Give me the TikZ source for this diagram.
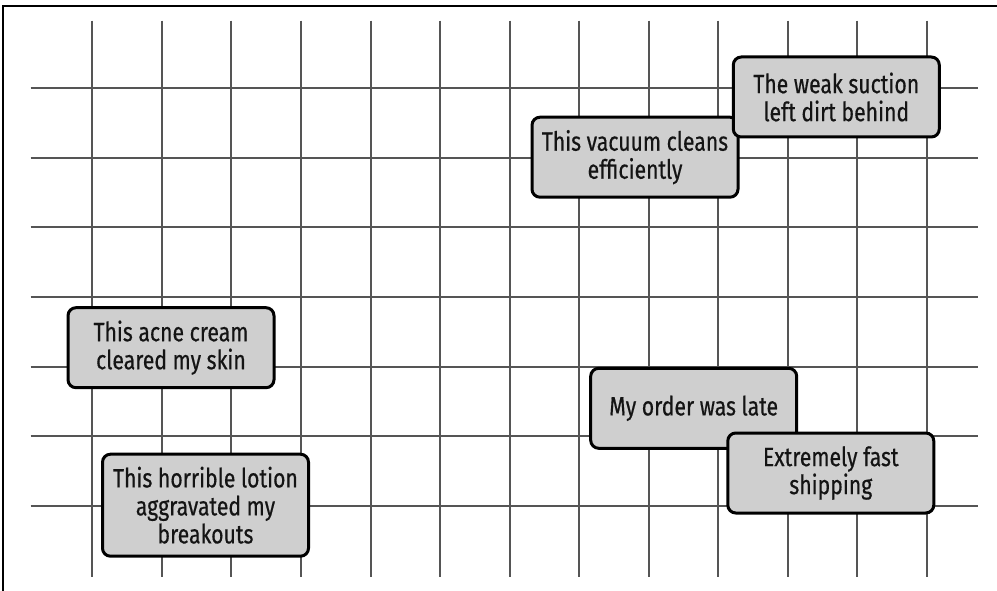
\documentclass[tikz,border=0pt]{standalone}
\usepackage{fontspec}
\setmainfont[FakeStretch=0.8,FakeBold=0.5]{Fira Sans}
\definecolor{gridc}{RGB}{85,85,85}
\definecolor{boxfill}{RGB}{207,207,207}
\definecolor{txt}{RGB}{20,20,20}
\tikzset{
  gridline/.style={draw=gridc,line width=2pt},
  card/.style={draw=black,line width=3pt,fill=boxfill,rounded corners=8pt,
    minimum width=206pt,minimum height=80pt,inner sep=0pt,align=center,
    text=txt,font=\fontsize{26.5}{28}\selectfont},
  tallcard/.style={card,minimum height=102pt}
}
\begin{document}
\begin{tikzpicture}[x=1pt,y=-1pt]
\useasboundingbox (0,0) rectangle (997,591);
\fill[white] (0,0) rectangle (997,591);
\draw[black,line width=2pt] (3,591) -- (3,6) -- (997,6);
\foreach \k in {0,...,12}{
  \draw[gridline] ({92.3+69.55*\k},20.7) -- ({92.3+69.55*\k},576.7);
}
\foreach \j in {0,...,6}{
  \draw[gridline] (30.7,{88.3+69.6*\j}) -- (977.7,{88.3+69.6*\j});
}
\node[card] (vac) at (635,157.2) {This vacuum cleans\\efficiently};
\node[card] (weak) at (836.3,97) {The weak suction\\left dirt behind};
\node[card] (acne) at (171,347.7) {This acne cream\\cleared my skin};
\node[tallcard] (lotion) at (205.5,505.2) {This horrible lotion\\aggravated my\\breakouts};
\node[card] (order) at (693.7,408.3) {My order was late};
\node[card] (fast) at (830.8,473) {Extremely fast\\shipping};
\end{tikzpicture}
\end{document}
